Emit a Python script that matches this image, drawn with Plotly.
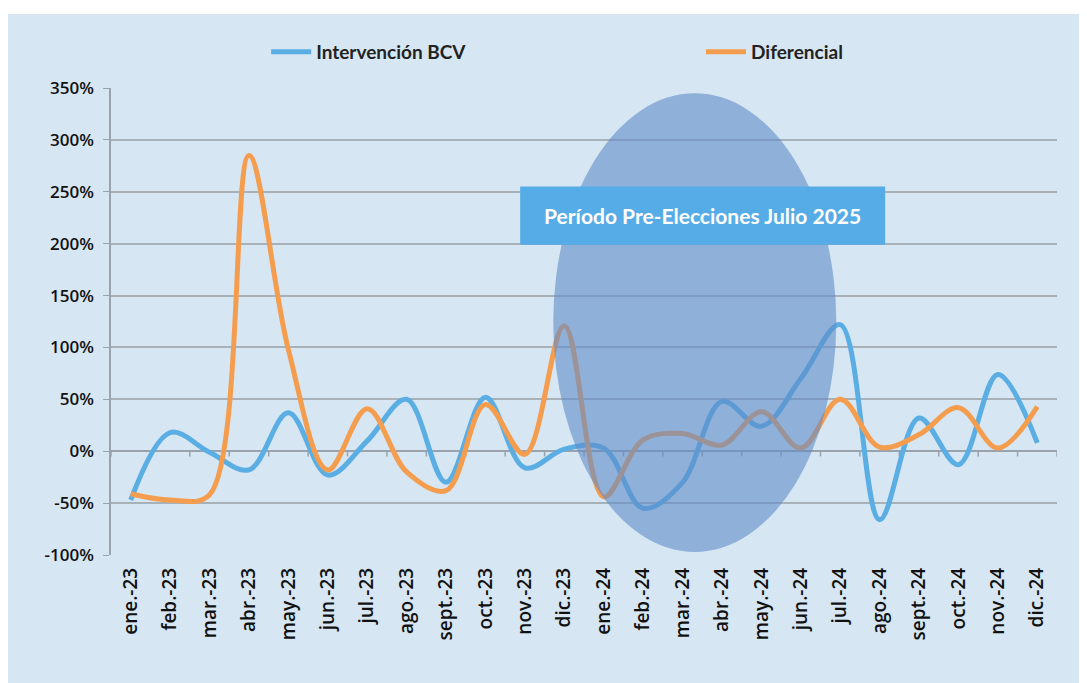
import plotly.graph_objects as go

categories = ["ene.-23", "feb.-23", "mar.-23", "abr.-23", "may.-23", "jun.-23",
              "jul.-23", "ago.-23", "sept.-23", "oct.-23", "nov.-23", "dic.-23",
              "ene.-24", "feb.-24", "mar.-24", "abr.-24", "may.-24", "jun.-24",
              "jul.-24", "ago.-24", "sept.-24", "oct.-24", "nov.-24", "dic.-24"]
intervencion_bcv = [-47, 18, -1, -18, 37, -23, 10, 50, -30, 52, -16, 2,
                    3, -55, -30, 48, 24, 70, 122, -66, 32, -13, 74, 8]
diferencial = [-41, -47, -42, 285, 98, -18, 41, -20, -38, 45, -3, 121,
               -44, 11, 17, 6, 38, 3, 50, 4, 16, 42, 3, 43]
y_ticks = [-100, -50, 0, 50, 100, 150, 200, 250, 300, 350]
y_tick_labels = [f"{v}%" for v in y_ticks]
annotation_text = "Período Pre-Elecciones Julio 2025"

BG = "#d6e6f2"
FONT = "Open Sans"
LEGEND_FONT = dict(family="Liberation Sans Narrow, Lato", size=19, color="#222", weight="bold")

W, H = 1079, 675
ML, MR, MT, MB = 103, 30, 80, 128
PLOT_H = H - MT - MB

fig = go.Figure()
fig.add_trace(go.Scatter(x=categories, y=intervencion_bcv, name="Intervención BCV", legend="legend",
                         showlegend=True, mode="lines",
                         line=dict(color="#5aaee3", width=5, shape="spline", smoothing=1.0)))
fig.add_trace(go.Scatter(x=categories, y=diferencial, name="Diferencial", legend="legend2",
                         showlegend=True, mode="lines",
                         line=dict(color="#f59d4f", width=5, shape="spline", smoothing=1.0)))

shapes = []
# white strip at top of the panel
shapes.append(dict(type="rect", xref="paper", yref="paper", x0=-0.2, x1=1.2,
                   y0=1 + (MT - 6) / PLOT_H, y1=1.3, fillcolor="white", line=dict(width=0), layer="below"))
# category tick marks on the zero line
for i in range(len(categories) + 1):
    shapes.append(dict(type="line", xref="x", yref="y", x0=i - 0.5, x1=i - 0.5, y0=0, y1=-5,
                       line=dict(color="#9aa3ab", width=1.5), layer="below"))
# ellipse
shapes.append(dict(type="circle", xref="x", yref="y", x0=10.72, x1=17.9, y0=-97, y1=345,
                   fillcolor="rgba(95,140,200,0.6)", line=dict(width=0), layer="above"))
# text box
shapes.append(dict(type="rect", xref="x", yref="y", x0=9.88, x1=19.14, y0=199, y1=255,
                   fillcolor="#56ace6", line=dict(width=0), layer="above"))
fig.update_layout(shapes=shapes)

fig.add_annotation(x=14.51, y=227, xref="x", yref="y", text=annotation_text, showarrow=False,
                   font=dict(family="Lato", size=21, color="white", weight="bold"))

fig.update_layout(
    width=W, height=H,
    margin=dict(l=ML, r=MR, t=MT, b=MB, autoexpand=False),
    paper_bgcolor=BG, plot_bgcolor=BG,
    showlegend=True,
    font=dict(family=FONT, color="#1a1a1a"),
    legend=dict(visible=True, orientation="h", x=0.164, y=1 + 36 / PLOT_H, xanchor="left", yanchor="middle",
                bgcolor="rgba(0,0,0,0)", font=LEGEND_FONT, itemwidth=40),
    legend2=dict(visible=True, orientation="h", x=0.6237, y=1 + 36 / PLOT_H, xanchor="left", yanchor="middle",
                 bgcolor="rgba(0,0,0,0)", font=LEGEND_FONT, itemwidth=40),
    xaxis=dict(type="category", categoryorder="array", categoryarray=categories,
               range=[-0.5, len(categories) - 0.5], showgrid=False, zeroline=False,
               showline=False, tickangle=-90, ticks="", ticklabelstandoff=8, automargin=False,
               tickfont=dict(family=FONT, size=19, color="#111", weight=600)),
    yaxis=dict(range=[-100, 350], tickvals=y_ticks, ticktext=y_tick_labels, automargin=False,
               showgrid=True, gridcolor="#a8b0b8", gridwidth=1.5, zeroline=True,
               zerolinecolor="#9aa3ab", zerolinewidth=1.5,
               showline=True, linecolor="#9aa3ab", linewidth=1.5,
               ticks="outside", ticklen=6, tickcolor="#9aa3ab", ticklabelstandoff=6,
               tickfont=dict(family=FONT, size=17, color="#111", weight=600)),
)

fig.write_html("out.html")
